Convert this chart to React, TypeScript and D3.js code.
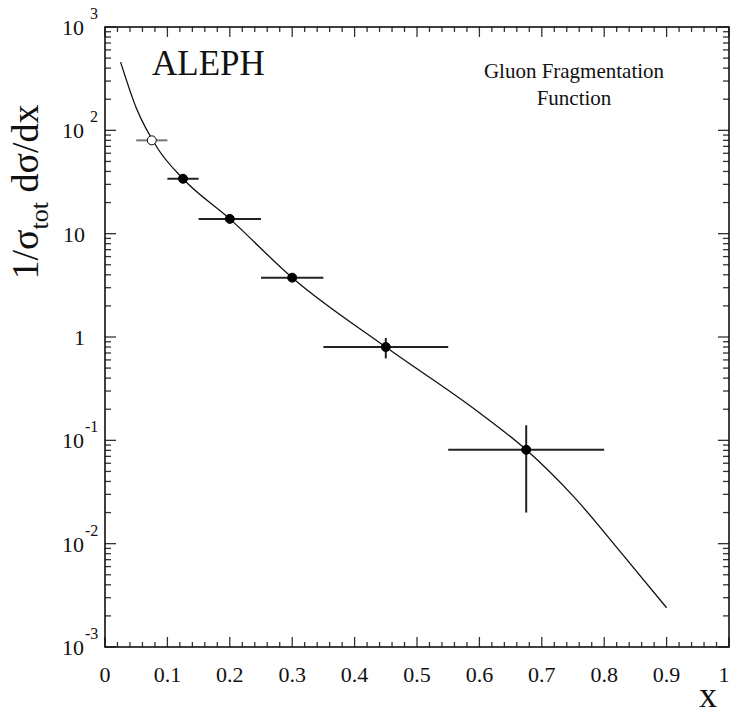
import React from "react";
import * as d3 from "d3";

const pointX = [0.075, 0.125, 0.2, 0.3, 0.45, 0.675];
const pointY = [80, 34, 13.9, 3.75, 0.8, 0.081];
const pointXLo = [0.05, 0.1, 0.15, 0.25, 0.35, 0.55];
const pointXHi = [0.1, 0.15, 0.25, 0.35, 0.55, 0.8];
const pointYLo = [80, 34, 13.9, 3.75, 0.62, 0.02];
const pointYHi = [80, 34, 13.9, 3.75, 0.98, 0.14];
const pointOpen = [true, false, false, false, false, false];

const curveX = [0.025, 0.05, 0.085, 0.125, 0.2, 0.3, 0.45, 0.6, 0.675, 0.75, 0.83, 0.9];
const curveY = [457, 165, 66, 34, 13.9, 3.75, 0.8, 0.185, 0.081, 0.029, 0.0078, 0.0024];

const xTicks = [0, 0.1, 0.2, 0.3, 0.4, 0.5, 0.6, 0.7, 0.8, 0.9, 1];
const xTickLabels = ["0", "0.1", "0.2", "0.3", "0.4", "0.5", "0.6", "0.7", "0.8", "0.9", "1"];
const yDecades = [-3, -2, -1, 0, 1, 2, 3];

const L = 105, R = 729, T = 27, B = 647;
const FONT = "'Liberation Serif', 'Times New Roman', serif";

export default function App() {
  const x = d3.scaleLinear().domain([0, 1]).range([L, R]);
  const y = d3.scaleLog().domain([1e-3, 1e3]).range([B, T]);

  const line = d3
    .line<number>()
    .x((_, i) => x(curveX[i]))
    .y((_, i) => y(curveY[i]))
    .curve(d3.curveMonotoneX);
  const curvePath = line(curveX) || "";

  const xMinor: number[] = [];
  for (let i = 0; i <= 50; i++) xMinor.push(i / 50);
  const yMinor: number[] = [];
  for (let e = -3; e < 3; e++) for (let m = 2; m <= 9; m++) yMinor.push(m * Math.pow(10, e));

  const tickColor = "#333";
  return (
    <svg width={732} height={715} style={{ position: "absolute", left: 0, top: 0, background: "#fff" }}>
      <g stroke={tickColor} strokeWidth={1.3}>
        {xMinor.map((v, i) => {
          const major = i % 5 === 0;
          const len = major ? 10 : 5;
          return (
            <g key={"xm" + i}>
              <line x1={x(v)} x2={x(v)} y1={B} y2={B - len} />
              <line x1={x(v)} x2={x(v)} y1={T} y2={T + len} />
            </g>
          );
        })}
        {yMinor.map((v, i) => (
          <g key={"ym" + i}>
            <line x1={L} x2={L + 6} y1={y(v)} y2={y(v)} />
            <line x1={R} x2={R - 6} y1={y(v)} y2={y(v)} />
          </g>
        ))}
        {yDecades.map((e) => (
          <g key={"yd" + e}>
            <line x1={L} x2={L + 11} y1={y(Math.pow(10, e))} y2={y(Math.pow(10, e))} />
            <line x1={R} x2={R - 11} y1={y(Math.pow(10, e))} y2={y(Math.pow(10, e))} />
          </g>
        ))}
      </g>
      <rect x={L} y={T} width={R - L} height={B - T} fill="none" stroke="#111" strokeWidth={1.6} />

      {xTicks.map((v, i) => (
        <text key={"xl" + i} x={Math.min(x(v), 724)} y={682} textAnchor="middle" fontFamily={FONT} fontSize={22} fill="#111">
          {xTickLabels[i]}
        </text>
      ))}

      {yDecades.map((e) => {
        const yy = y(Math.pow(10, e));
        if (e === 0)
          return (
            <text key={"yl" + e} x={85} y={yy + 8} textAnchor="end" fontFamily={FONT} fontSize={22} fill="#111">1</text>
          );
        if (e === 1)
          return (
            <text key={"yl" + e} x={85} y={yy + 8} textAnchor="end" fontFamily={FONT} fontSize={22} fill="#111">10</text>
          );
        return (
          <g key={"yl" + e}>
            <text x={84} y={yy + 8} textAnchor="end" fontFamily={FONT} fontSize={22} fill="#111">10</text>
            <text x={e < 0 ? 85 : 90} y={yy - 8} textAnchor="start" fontFamily={FONT} fontSize={16} fill="#111">{String(e)}</text>
          </g>
        );
      })}

      <text x={708} y={707} textAnchor="middle" fontFamily={FONT} fontSize={36} fill="#111">x</text>
      <text transform="translate(38,192) rotate(-90)" textAnchor="middle" fontFamily={FONT} fontSize={38} fill="#111">
        1/σ<tspan fontSize={26} dy={10}>tot</tspan><tspan dy={-10}> dσ/dx</tspan>
      </text>

      <text x={152} y={75} fontFamily={FONT} fontSize={35} fill="#111">ALEPH</text>
      <text x={574} y={78} textAnchor="middle" fontFamily={FONT} fontSize={21} fill="#111">Gluon Fragmentation</text>
      <text x={574} y={105} textAnchor="middle" fontFamily={FONT} fontSize={21} fill="#111">Function</text>

      <path d={curvePath} fill="none" stroke="#111" strokeWidth={1.3} />

      {pointX.map((v, i) => (
        <g key={"eb" + i} stroke={pointOpen[i] ? "#777" : "#222"} strokeWidth={2}>
          <line x1={x(pointXLo[i])} x2={x(pointXHi[i])} y1={y(pointY[i])} y2={y(pointY[i])} />
          {pointYHi[i] !== pointYLo[i] && (
            <line x1={x(v)} x2={x(v)} y1={y(pointYLo[i])} y2={y(pointYHi[i])} />
          )}
        </g>
      ))}
      {pointX.map((v, i) => (
        <circle
          key={"pt" + i}
          cx={x(v)}
          cy={y(pointY[i])}
          r={4.5}
          fill={pointOpen[i] ? "#fff" : "#000"}
          stroke="#000"
          strokeWidth={1}
        />
      ))}
    </svg>
  );
}
